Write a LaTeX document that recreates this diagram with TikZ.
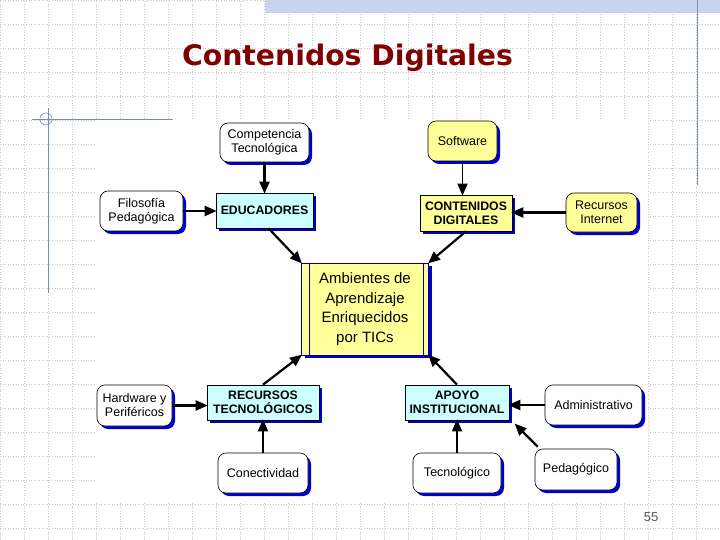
\documentclass[tikz,border=0pt]{standalone}
\usepackage{fontspec}
\setmainfont{Liberation Sans}
\newfontfamily\titlefont{DejaVu Sans}
\usetikzlibrary{arrows.meta,shadows}
\definecolor{hoja}{RGB}{255,255,153}
\definecolor{celeste}{RGB}{204,255,255}
\definecolor{sombra}{RGB}{0,0,204}
\definecolor{marino}{RGB}{0,0,120}
\definecolor{titulo}{RGB}{128,0,0}
\definecolor{guia}{RGB}{120,140,185}
\definecolor{franja}{RGB}{200,212,238}
\definecolor{rejilla}{RGB}{200,200,200}

\begin{document}
\begin{tikzpicture}[x=1pt,y=-1pt,
  caja/.style={draw=black,line width=0.6pt,align=center,inner sep=0pt,
    drop shadow={shadow xshift=3pt,shadow yshift=-3pt,fill=sombra,opacity=1},
    font=\fontsize{12.5}{14}\selectfont},
  redonda/.style={caja,rounded corners=8pt,fill=white},
  amarilla/.style={redonda,fill=hoja},
  central/.style={caja,rounded corners=0pt,fill=celeste,font=\bfseries\fontsize{12.3}{14}\selectfont},
  flecha/.style={line width=2.2pt,-{Triangle[length=12pt,width=10pt]},shorten >=-1pt},
  fina/.style={flecha,line width=1.3pt}]
\useasboundingbox (0,0) rectangle (720,540);
\fill[white] (0,0) rectangle (720,540);
\draw[rejilla,dotted,line width=0.6pt] (0,0) grid[step=24pt] (720,540);
\fill[franja] (265,0) rectangle (720,13);
\fill[white] (96,120) rectangle (648,502);
\draw[guia,line width=0.8pt] (32,119) -- (173,119) (48,108) -- (48,293) (697,0) -- (697,185);
\draw[guia,line width=0.6pt] (46,119) circle[radius=6];

\node[anchor=base,text=titulo,font=\titlefont\bfseries\fontsize{28.3}{32}\selectfont] (tit) at (347.5,66) {Contenidos Digitales};

\node[redonda,minimum width=89pt,minimum height=39pt] (comp) at (264.5,142.5) {Competencia\\Tecnológica};
\node[amarilla,minimum width=69pt,minimum height=40pt] (soft) at (462.5,141) {Software};
\node[redonda,minimum width=83pt,minimum height=40pt] (filo) at (141.5,211) {Filosofía\\Pedagógica};
\node[central,minimum width=97pt,minimum height=35pt] (educ) at (264.5,210.5) {EDUCADORES};
\node[central,fill=hoja,minimum width=92pt,minimum height=36pt] (cont) at (466,213) {CONTENIDOS\\DIGITALES};
\node[amarilla,minimum width=71pt,minimum height=39pt] (rint) at (601.5,212.5) {Recursos\\Internet};

\node[caja,fill=hoja,draw=marino,minimum width=127pt,minimum height=92pt,font=\fontsize{15}{19.5}\selectfont] (amb) at (365,309) {Ambientes de\\Aprendizaje\\Enriquecidos\\por TICs};
\draw[marino,line width=0.6pt] ([xshift=8pt]amb.north west) -- ([xshift=8pt]amb.south west)
  ([xshift=-6pt]amb.north east) -- ([xshift=-6pt]amb.south east);

\node[redonda,minimum width=75pt,minimum height=41pt] (hw) at (134.5,405.5) {Hardware y\\Periféricos};
\node[central,minimum width=112pt,minimum height=35pt] (rec) at (263,402.5) {RECURSOS\\TECNOLÓGICOS};
\node[redonda,minimum width=90pt,minimum height=40pt] (conec) at (263,473) {Conectividad};
\node[central,minimum width=104pt,minimum height=35pt] (apoyo) at (457,402.5) {APOYO\\INSTITUCIONAL};
\node[redonda,minimum width=97pt,minimum height=40pt] (adm) at (593.5,405) {Administrativo};
\node[redonda,minimum width=88pt,minimum height=40pt] (tecn) at (457,473) {Tecnológico};
\node[redonda,minimum width=82pt,minimum height=41pt] (pedag) at (576,469.5) {Pedagógico};

\node[text={rgb,255:red,85;green,85;blue,105},font=\fontsize{13}{15}\selectfont] (pag) at (651,517) {55};

\draw[flecha] (comp.south) -- (educ.north);
\draw[fina] (soft.south) -- (soft.south |- cont.north);
\draw[flecha] (filo.east) -- (filo.east -| educ.west);
\draw[flecha] (rint.west) -- (rint.west -| cont.east);
\draw[flecha] ([xshift=4pt]educ.south) -- (amb.north west);
\draw[flecha] (cont.south) -- (amb.north east);
\draw[flecha] (rec.north) -- (amb.south west);
\draw[flecha] (apoyo.north) -- (amb.south east);
\draw[flecha] (hw.east) -- (hw.east -| rec.west);
\draw[flecha,line width=1.8pt] (conec.north) -- (rec.south);
\draw[flecha] (adm.west) -- (adm.west -| apoyo.east);
\draw[fina] (tecn.north) -- (apoyo.south);
\draw[flecha] ([shift={(3pt,2pt)}]pedag.north west) -- ([shift={(6pt,-4pt)}]apoyo.south east);
\end{tikzpicture}
\end{document}
